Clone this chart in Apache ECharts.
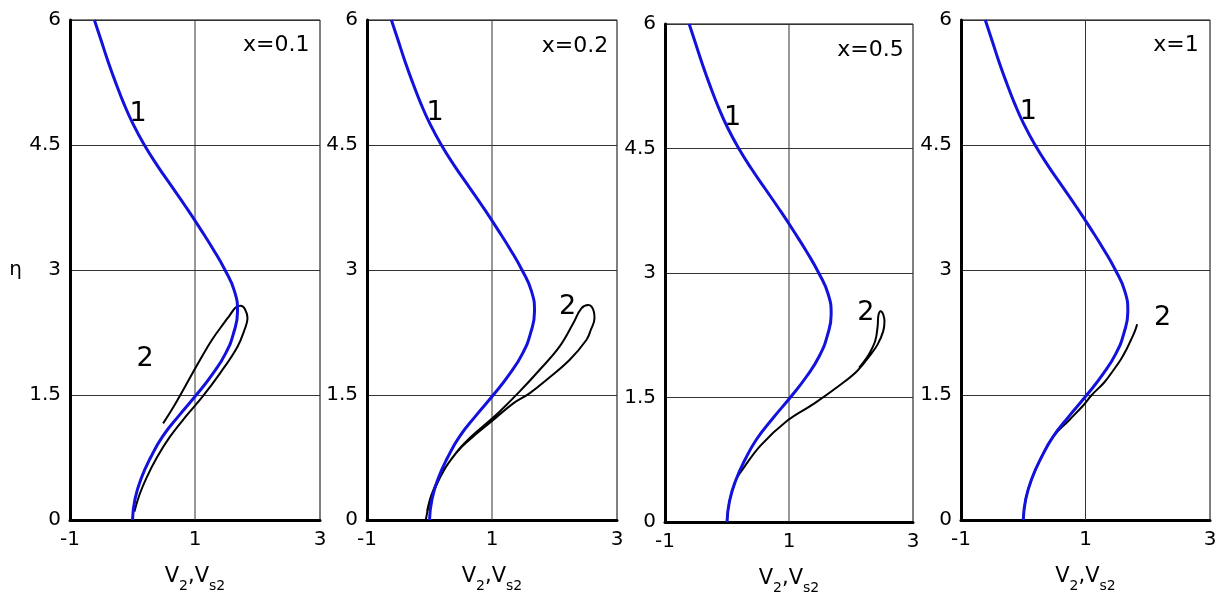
<!DOCTYPE html>
<html>
<head>
<meta charset="utf-8">
<title>V2 profiles</title>
<script src="https://cdn.jsdelivr.net/npm/echarts@6/dist/echarts.min.js"></script>
<style>
  html, body { margin: 0; padding: 0; background: #fff; }
  #chart { width: 1229px; height: 600px; }
</style>
</head>
<body>
<div id="chart"></div>
<script>
// Axis ticks
const xTickValues = [-1, 1, 3];
const etaTickStep = 1.5;
const etaMax = 6;

// Panel captions (streamwise station)
const panelTitles = ['x=0.1', 'x=0.2', 'x=0.5', 'x=1'];
const curveNames = ['1', '2'];

// Curve 1 (gas phase V2) – same profile in every panel
const etaCurve1 = [0, 0.25, 0.5, 0.75, 1, 1.25, 1.5, 1.75, 2, 2.25, 2.5, 2.75, 3, 3.25, 3.5, 3.75, 4, 4.25, 4.5, 4.75, 5, 5.25, 5.5, 5.75, 6];
const vCurve1 = [0, 0.04, 0.14, 0.29, 0.48, 0.74, 1.02, 1.28, 1.49, 1.62, 1.68, 1.63, 1.48, 1.29, 1.08, 0.86, 0.63, 0.40, 0.19, 0.01, -0.14, -0.27, -0.39, -0.50, -0.61];

// Curve 2 (particle phase Vs2), x = 0.1
const vCurve2x01 = [0.03, 0.11, 0.22, 0.39, 0.6, 0.85, 1.12, 1.4, 1.68, 1.8, 1.84, 1.8, 1.73, 1.65, 1.55, 1.48, 1.27, 1.05, 0.84, 0.65, 0.49];
const etaCurve2x01 = [0.1, 0.3, 0.5, 0.75, 1.0, 1.24, 1.48, 1.76, 2.08, 2.3, 2.42, 2.53, 2.57, 2.55, 2.45, 2.38, 2.16, 1.88, 1.6, 1.35, 1.16];

// Curve 2, x = 0.2
const vCurve2x02 = [-0.06, 0.0, 0.1, 0.25, 0.44, 0.64, 0.88, 1.12, 1.44, 1.76, 2.08, 2.3, 2.43, 2.54, 2.63, 2.64, 2.58, 2.51, 2.24, 1.87, 1.6, 1.34, 1.02, 0.76, 0.52, 0.32, 0.15, 0.03, -0.04];
const etaCurve2x02 = [0, 0.2, 0.4, 0.62, 0.82, 0.98, 1.14, 1.3, 1.54, 1.8, 2.08, 2.36, 2.54, 2.58, 2.5, 2.42, 2.28, 2.16, 1.92, 1.68, 1.52, 1.4, 1.2, 1.04, 0.88, 0.7, 0.5, 0.3, 0.1];

// Curve 2, x = 0.5
const vCurve2x05 = [0, 0.04, 0.14, 0.22, 0.54, 0.97, 1.41, 1.84, 2.1, 2.3, 2.43, 2.52, 2.54, 2.52, 2.48, 2.44, 2.43, 2.39, 2.28, 2.13];
const etaCurve2x05 = [0, 0.25, 0.5, 0.6, 0.92, 1.22, 1.43, 1.66, 1.82, 2.0, 2.14, 2.3, 2.42, 2.5, 2.54, 2.48, 2.36, 2.18, 2.01, 1.86];

// Curve 2, x = 1
const vCurve2x1 = [0, 0.04, 0.14, 0.29, 0.48, 0.74, 0.97, 1.1, 1.3, 1.45, 1.57, 1.66, 1.73, 1.79, 1.83];
const etaCurve2x1 = [0, 0.25, 0.5, 0.75, 1.0, 1.2, 1.38, 1.5, 1.65, 1.8, 1.93, 2.05, 2.16, 2.26, 2.35];

const zip = (xs, ys) => xs.map((v, i) => [v, ys[i]]);

const curve1 = zip(vCurve1, etaCurve1);
const curve2 = [
  zip(vCurve2x01, etaCurve2x01),
  zip(vCurve2x02, etaCurve2x02),
  zip(vCurve2x05, etaCurve2x05),
  zip(vCurve2x1, etaCurve2x1)
];

// Layout of the four panels
const panelBoxes = [
  { left: 70,  top: 20, width: 250, height: 500 },
  { left: 367, top: 20, width: 250, height: 500 },
  { left: 665, top: 24, width: 248, height: 499 },
  { left: 961, top: 20, width: 249, height: 500 }
];

// Label anchors in data units: [curve 1 label, curve 2 label, caption]
const labelAnchors = [
  [[0.09, 4.87], [0.2, 1.93], [2.83, 5.7]],
  [[0.09, 4.88], [2.21, 2.56], [2.86, 5.68]],
  [[0.09, 4.87], [2.24, 2.52], [2.85, 5.68]],
  [[0.08, 4.9],  [2.24, 2.43], [2.82, 5.7]]
];

const FONT = 'DejaVu Sans';
const TEXT = '#000';
const BLUE = '#1212dc';

const grids = [], xAxes = [], yAxes = [], series = [];

panelBoxes.forEach((box, i) => {
  grids.push(Object.assign({
    show: true, borderColor: '#000', borderWidth: 1, backgroundColor: 'transparent'
  }, box));

  xAxes.push({
    type: 'value', gridIndex: i, min: xTickValues[0], max: xTickValues[xTickValues.length - 1],
    splitLine: { show: false },
    axisTick: { show: false },
    axisLine: { show: true, onZero: false, lineStyle: { color: '#000', width: 3 } },
    axisLabel: { customValues: xTickValues, fontSize: 20, color: TEXT, margin: 10, fontFamily: FONT },
    name: '{a|V}{b|2}{a|,V}{b|s2}',
    nameLocation: 'middle',
    nameGap: 46,
    nameTextStyle: {
      color: TEXT, fontFamily: FONT,
      rich: {
        a: { fontSize: 21, fontFamily: FONT, color: TEXT, lineHeight: 22, verticalAlign: 'top' },
        b: { fontSize: 14, fontFamily: FONT, color: TEXT, lineHeight: 40, verticalAlign: 'middle' }
      }
    }
  });

  yAxes.push({
    type: 'value', gridIndex: i, min: 0, max: etaMax, interval: etaTickStep,
    splitLine: { show: true, lineStyle: { color: '#333', width: 1 } },
    axisTick: { show: false },
    axisLine: { show: true, onZero: false, lineStyle: { color: '#000', width: 3 } },
    axisLabel: { fontSize: 20, color: TEXT, margin: 9, fontFamily: FONT },
    name: i === 0 ? 'η' : '',
    nameLocation: 'middle',
    nameRotate: 0,
    nameGap: 48,
    nameTextStyle: { fontSize: 20, color: TEXT, fontFamily: FONT }
  });

  // vertical grid line at V = 1
  series.push({
    type: 'line', xAxisIndex: i, yAxisIndex: i, silent: true, z: 1,
    data: [[xTickValues[1], 0], [xTickValues[1], etaMax]],
    symbol: 'none', lineStyle: { color: '#333', width: 1 }
  });

  // curve 2 (particles)
  series.push({
    type: 'line', xAxisIndex: i, yAxisIndex: i, silent: true, z: 3,
    data: curve2[i], symbol: 'none', smooth: 0.4,
    lineStyle: { color: '#000', width: 2 }
  });

  // curve 1 (gas)
  series.push({
    type: 'line', xAxisIndex: i, yAxisIndex: i, silent: true, z: 4,
    data: curve1, symbol: 'none', smooth: 0.5,
    lineStyle: { color: BLUE, width: 3 }
  });

  // curve numbers and panel caption
  const texts = [
    { at: labelAnchors[i][0], text: curveNames[0], size: 27, align: 'center' },
    { at: labelAnchors[i][1], text: curveNames[1], size: 27, align: 'center' },
    { at: labelAnchors[i][2], text: panelTitles[i], size: 22, align: 'right' }
  ];
  texts.forEach(t => {
    series.push({
      type: 'scatter', xAxisIndex: i, yAxisIndex: i, silent: true, z: 5,
      symbolSize: 0, data: [t.at],
      itemStyle: { opacity: 1 },
      label: {
        show: true, position: 'inside', formatter: t.text,
        align: t.align, verticalAlign: 'middle', opacity: 1,
        fontSize: t.size, color: TEXT, fontFamily: FONT
      }
    });
  });
});

const chart = echarts.init(document.getElementById('chart'), null, { renderer: 'canvas' });
chart.setOption({
  animation: false,
  backgroundColor: '#fff',
  grid: grids,
  xAxis: xAxes,
  yAxis: yAxes,
  series: series
});
</script>
</body>
</html>
